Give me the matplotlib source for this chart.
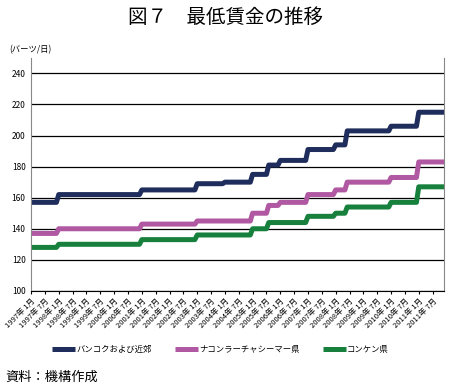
import matplotlib
matplotlib.use("Agg")
import matplotlib.pyplot as plt
import numpy as np

plt.rcParams['font.family'] = ['Noto Sans CJK JP', 'DejaVu Sans']

# months counted from 1997年1月 (= 0); each level holds until the next change
bkk_start = [0, 12, 48, 72, 84, 96, 103, 108, 120, 132, 137, 156, 168]
bkk_level = [157, 162, 165, 169, 170, 175, 181, 184, 191, 194, 203, 206, 215]

nkr_start = [0, 12, 48, 72, 96, 103, 108, 120, 132, 137, 156, 168]
nkr_level = [137, 140, 143, 145, 150, 155, 157, 162, 165, 170, 173, 183]

kkn_start = [0, 12, 48, 72, 96, 103, 120, 132, 137, 156, 168]
kkn_level = [128, 130, 133, 136, 140, 144, 148, 150, 154, 157, 167]

n_months = 180
series_names = ['バンコクおよび近郊', 'ナコンラーチャシーマー県', 'コンケン県']
colors = ['#1f2d5c', '#b058a2', '#17803c']

tick_labels = []
for yr in range(1997, 2012):
    tick_labels.append(f'{yr}年 1月')
    tick_labels.append(f'{yr}年 7月')


def monthly(starts, levels):
    lengths = np.diff(starts + [n_months])
    return np.repeat(levels, lengths)


fig = plt.figure(figsize=(4.5, 3.91), dpi=100)
ax = fig.add_axes([0.069, 0.256, 0.918, 0.596])

months = np.arange(n_months)
for (s, l), name, c in zip([(bkk_start, bkk_level), (nkr_start, nkr_level), (kkn_start, kkn_level)],
                           series_names, colors):
    ax.plot(months, monthly(s, l), color=c, lw=3.6, label=name, solid_capstyle='butt')

ax.set_xlim(0, n_months - 1)
ax.set_ylim(100, 250)
ax.set_yticks(np.arange(100, 241, 20))
ax.yaxis.grid(True, color='black', lw=0.9)
ax.set_axisbelow(True)
ax.tick_params(axis='y', length=0, labelsize=6, pad=4)

ax.set_xticks(np.arange(0, n_months, 6))
ax.set_xticklabels(tick_labels, rotation=45, ha='right', rotation_mode='anchor', fontsize=5.5)
ax.tick_params(axis='x', length=2.5, width=0.8, pad=2)

ax.spines['top'].set_visible(False)
ax.spines['left'].set_color('#888888')
ax.spines['right'].set_color('#888888')
ax.spines['bottom'].set_color('black')

fig.text(0.5, 0.955, '図７　最低賃金の推移', ha='center', va='center', fontsize=14)
fig.text(0.02, 0.872, '(バーツ/日)', ha='left', va='center', fontsize=6)
fig.text(0.013, 0.035, '資料：機構作成', ha='left', va='center', fontsize=9.5)

fig.legend(loc='center', bbox_to_anchor=(0.49, 0.107), ncol=3, frameon=False, fontsize=6,
           handlelength=2.8, handletextpad=0.1, columnspacing=2.8)

fig.savefig('out.png', dpi=100)
